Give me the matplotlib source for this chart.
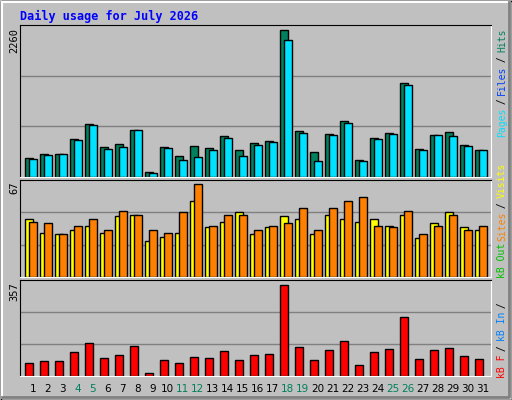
import numpy as np
import matplotlib.pyplot as plt
from matplotlib.patches import Rectangle

days = list(range(1, 32))
weekend = [4, 5, 11, 12, 18, 19, 25, 26]
hits = [297, 358, 358, 588, 818, 465, 511, 726, 82, 465, 327, 481, 450, 634, 419, 527,
        557, 2260, 711, 389, 665, 864, 266, 603, 680, 1447, 435, 649, 695, 496, 419]
files = [281, 343, 358, 573, 803, 435, 465, 726, 66, 450, 266, 312, 419, 603, 327, 496,
         542, 2107, 680, 251, 649, 833, 251, 588, 665, 1416, 419, 649, 634, 481, 419]
visits = [42, 32, 31, 34, 37, 32, 44, 45, 26, 29, 32, 55, 36, 40, 47, 31,
          36, 44, 42, 31, 45, 42, 40, 42, 37, 45, 28, 39, 47, 36, 34]
sites = [40, 39, 31, 37, 42, 34, 48, 45, 34, 32, 47, 67, 37, 45, 45, 34,
         37, 39, 50, 34, 50, 55, 58, 37, 36, 48, 31, 37, 45, 34, 37]
kbytes = [50, 57, 57, 95, 130, 72, 81, 116, 13, 64, 52, 76, 72, 99, 64, 83,
          87, 357, 115, 64, 103, 138, 44, 95, 107, 229, 68, 103, 111, 80, 68]

BG = '#C0C0C0'
W, H = 512, 400
fig = plt.figure(figsize=(W / 100, H / 100), dpi=100, facecolor=BG)
MONO = 'DejaVu Sans Mono'


def px_axes(x0, y0, x1, y1):
    """Axes from pixel box (top-left origin)."""
    ax = fig.add_axes([x0 / W, 1 - y1 / H, (x1 - x0) / W, (y1 - y0) / H])
    ax.set_facecolor(BG)
    for s in ax.spines.values():
        s.set_color('black')
    ax.spines['bottom'].set_color('white')
    ax.spines['right'].set_color('white')
    ax.set_xticks([])
    ax.set_yticks([])
    return ax


# outer frame
frame = fig.add_axes([0, 0, 1, 1])
frame.set_xlim(0, W)
frame.set_ylim(H, 0)
frame.axis('off')
frame.add_patch(Rectangle((0.5, 0.5), W - 1, H - 1, fill=False, ec='black', lw=1))
frame.add_patch(Rectangle((2, 2), W - 4, H - 4, fill=False, ec='white', lw=1.5))
frame.plot([2, W - 3, W - 3], [H - 3, H - 3, 2], color='#808080', lw=2)
frame.text(20, 16, 'Daily usage for July 2026', color='#0000FF', fontsize=8.5,
           fontweight='bold', family=MONO, va='center')

xmax = 471 / 15
x = np.array(days) - 1


def right_label(ypix_bottom, parts):
    yb = ypix_bottom
    for txt, col in parts:
        frame.text(502, yb, txt, color=col, family=MONO, fontsize=7,
                   rotation=90, ha='center', va='bottom')
        yb -= len(txt) * 5.3


# top panel
ax1 = px_axes(20, 25, 491, 177)
ax1.set_xlim(0, xmax)
ax1.set_ylim(0, 2260 * 152 / 147)
for g in (1, 2):
    ax1.axhline(2260 * 152 / 147 * g / 3, color='#808080', lw=1, zorder=0)
ax1.bar(x + 0.333, hits, width=0.51, align='edge', color='#00805C', ec='black', lw=1)
ax1.bar(x + 0.6, files, width=0.51, align='edge', color='#00E0FF', ec='black', lw=1)
frame.text(14, 28, '2260', rotation=90, ha='center', va='top', family=MONO, fontsize=7.5)
right_label(137, [('Pages', '#00E0FF'), (' / ', 'black'), ('Files', '#0040FF'),
                  (' / ', 'black'), ('Hits', '#00805C')])

# middle panel
ax2 = px_axes(20, 180, 491, 277)
ax2.set_xlim(0, xmax)
ax2.set_ylim(0, 67 * 97 / 92.5)
for g in (1, 2):
    ax2.axhline(67 * 97 / 92.5 * g / 3, color='#808080', lw=1, zorder=0)
ax2.bar(x + 0.333, visits, width=0.51, align='edge', color='#FFFF00', ec='black', lw=1)
ax2.bar(x + 0.6, sites, width=0.51, align='edge', color='#FF8000', ec='black', lw=1)
frame.text(14, 182, '67', rotation=90, ha='center', va='top', family=MONO, fontsize=7.5)
right_label(278, [('kB Out', '#00C000'), (' ', 'black'), ('Sites', '#FF8000'),
                  (' / ', 'black'), ('Visits', '#FFFF00')])

# bottom panel
ax3 = px_axes(20, 280, 491, 376)
ax3.set_xlim(0, xmax)
ax3.set_ylim(0, 357 * 96 / 91.3)
for g in (1, 2):
    ax3.axhline(357 * 96 / 91.3 * g / 3, color='#808080', lw=1, zorder=0)
ax3.bar(x + 0.333, kbytes, width=0.51, align='edge', color='#FF0000', ec='black', lw=1)
frame.text(14, 282, '357', rotation=90, ha='center', va='top', family=MONO, fontsize=7.5)
right_label(378, [('kB F', '#FF0000'), (' / ', 'black'), ('kB In', '#0080FF'),
                  (' / ', 'black')])

for d in days:
    xp = 20 + (d - 1 + 0.85) * 15
    col = '#00805C' if d in weekend else 'black'
    frame.text(xp, 389, str(d), color=col, ha='center', va='center',
               family='DejaVu Sans', fontsize=7.5)

fig.savefig('out.png', dpi=100, facecolor=BG)
